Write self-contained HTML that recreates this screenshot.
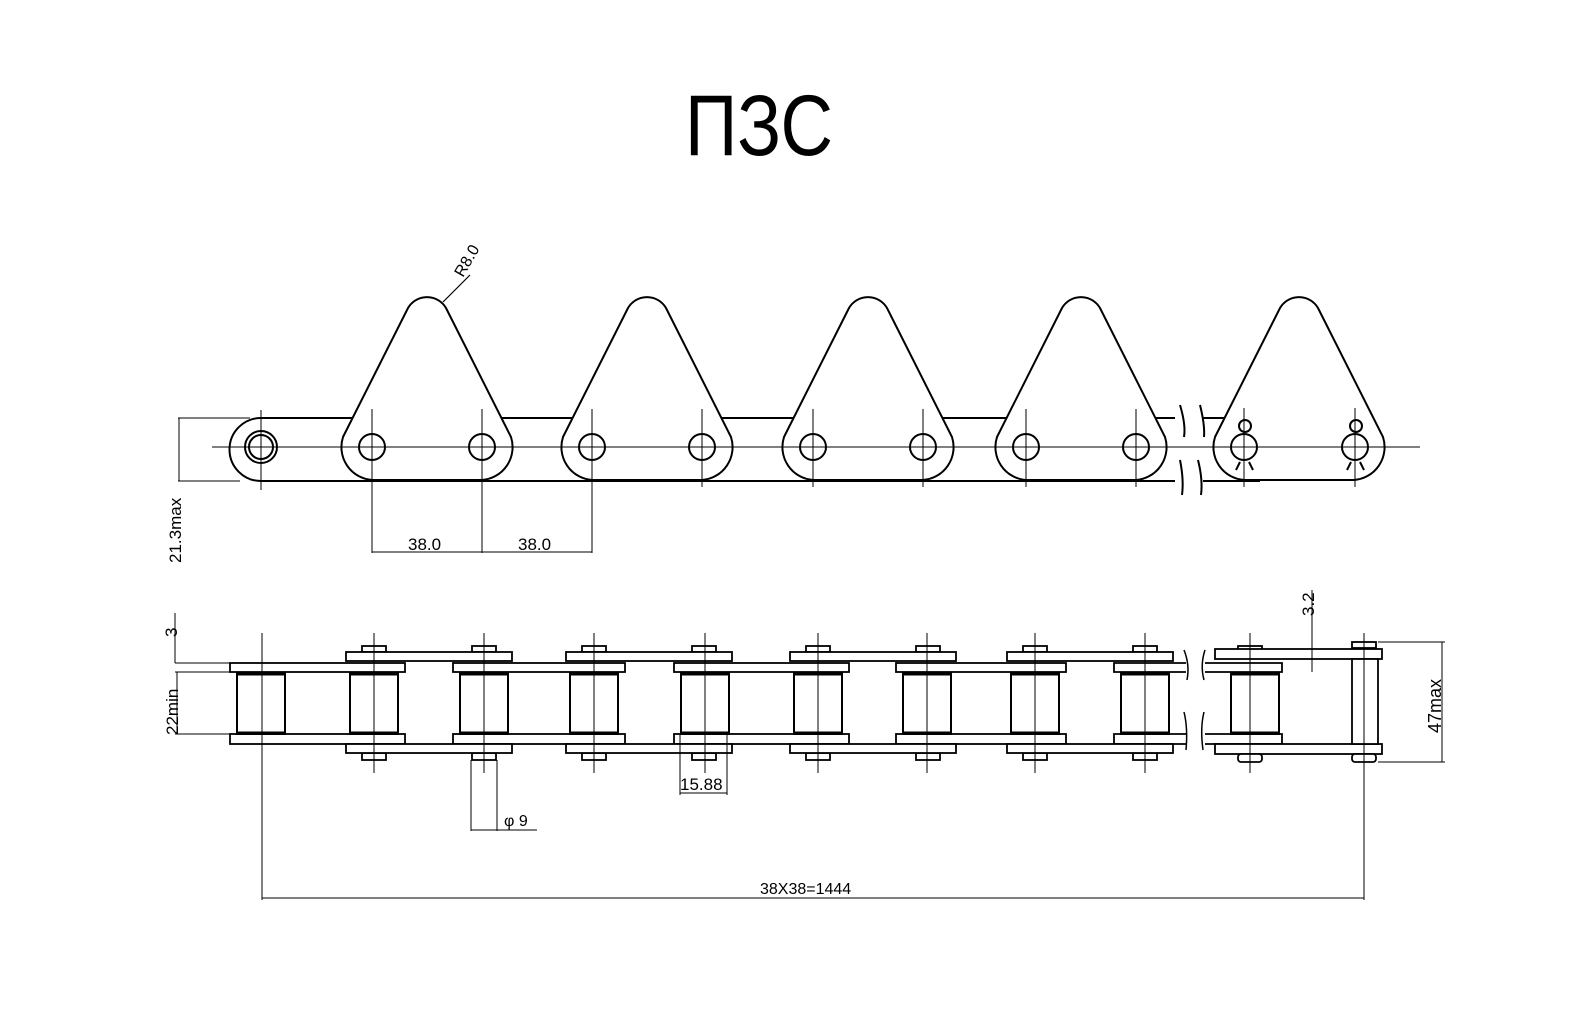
<!DOCTYPE html>
<html><head><meta charset="utf-8"><style>
html,body{margin:0;padding:0;background:#fff;}
svg{display:block;}
text{font-family:"Liberation Sans",sans-serif;fill:#000;}
</style></head><body>
<svg width="1570" height="1030" viewBox="0 0 1570 1030" xmlns="http://www.w3.org/2000/svg">
<defs>
<g id="tri">
<path d="M -29,-10 L 36,-139 A 22 22 0 0 1 74,-139 L 139,-10 A 33 33 0 0 1 110,33 L 0,33 A 33 33 0 0 1 -29,-10 Z" fill="#fff" stroke="#000" stroke-width="2"/>
</g>
<g id="holes">
<circle cx="0" cy="0" r="13" fill="none" stroke="#000" stroke-width="2"/>
<circle cx="110" cy="0" r="13" fill="none" stroke="#000" stroke-width="2"/>
<line x1="0" y1="-38" x2="0" y2="40" stroke="#000" stroke-width="1"/>
<line x1="110" y1="-38" x2="110" y2="40" stroke="#000" stroke-width="1"/>
</g>
<g id="outer" fill="#fff" stroke="#000" stroke-width="1.8">
<rect x="-12" y="646" width="24" height="6"/>
<rect x="98" y="646" width="24" height="6"/>
<rect x="-12" y="753" width="24" height="7"/>
<rect x="98" y="753" width="24" height="7"/>
<rect x="-28" y="652" width="166" height="9"/>
<rect x="-28" y="744" width="166" height="9"/>
</g>
<g id="roller">
<rect x="-24" y="673" width="48" height="61" fill="#fff" stroke="#000" stroke-width="2"/>
<line x1="-24" y1="674" x2="24" y2="674" stroke="#000" stroke-width="3"/>
<line x1="-24" y1="733" x2="24" y2="733" stroke="#000" stroke-width="3"/>
</g>
<g id="cl"><line x1="0" y1="633" x2="0" y2="773" stroke="#000" stroke-width="1"/></g>
</defs>

<text x="685" y="155" font-size="86" textLength="148" lengthAdjust="spacingAndGlyphs">ПЗС</text>

<!-- TOP VIEW -->
<g stroke="#000" fill="none" stroke-width="2">
<path d="M 360,418 L 261,418 A 31.5 31.5 0 0 0 261,481 L 360,481"/>
<line x1="340" y1="418" x2="1175" y2="418"/>
<line x1="340" y1="481" x2="1175" y2="481"/>
<line x1="1203" y1="418" x2="1240" y2="418"/>
<line x1="1203" y1="481" x2="1260" y2="481"/>
<circle cx="261" cy="447" r="16"/>
<circle cx="261" cy="447" r="12"/>
</g>
<line x1="212" y1="447" x2="1420" y2="447" stroke="#000" stroke-width="1"/>
<line x1="261" y1="410" x2="261" y2="490" stroke="#000" stroke-width="1"/>
<use href="#tri" x="372" y="447"/>
<use href="#tri" x="592" y="447"/>
<use href="#tri" x="813" y="447"/>
<use href="#tri" x="1026" y="447"/>
<use href="#tri" x="1244" y="447"/>
<line x1="1200" y1="447" x2="1420" y2="447" stroke="#000" stroke-width="1"/>
<line x1="340" y1="447" x2="1170" y2="447" stroke="#000" stroke-width="1"/>
<use href="#holes" x="372" y="447"/>
<use href="#holes" x="592" y="447"/>
<use href="#holes" x="813" y="447"/>
<use href="#holes" x="1026" y="447"/>
<g stroke="#000" fill="none" stroke-width="2">
<circle cx="1244" cy="447" r="13"/>
<circle cx="1355" cy="447" r="13"/>
<circle cx="1245" cy="426" r="6"/><circle cx="1356" cy="426" r="6"/>
<path d="M 1240,462 L 1236,470 M 1249,462 L 1253,470 M 1351,462 L 1347,470 M 1360,462 L 1364,470"/>
<path d="M 1180,405 Q 1186,425 1184,437 M 1200,405 Q 1205,425 1204,437 M 1180,460 Q 1184,480 1182,495 M 1198,460 Q 1203,480 1201,495"/>
</g>
<line x1="1244" y1="408" x2="1244" y2="487" stroke="#000" stroke-width="1"/>
<line x1="1355" y1="408" x2="1355" y2="487" stroke="#000" stroke-width="1"/>

<!-- R8.0 -->
<line x1="443" y1="302" x2="470" y2="275" stroke="#000" stroke-width="1.2"/>
<text x="0" y="0" font-size="16" transform="translate(463,278) rotate(-60)">R8.0</text>

<!-- 21.3max -->
<g stroke="#000" stroke-width="1">
<line x1="178" y1="418" x2="250" y2="418"/>
<line x1="178" y1="481" x2="240" y2="481"/>
<line x1="179" y1="418" x2="179" y2="481"/>
<line x1="372" y1="487" x2="372" y2="553"/>
<line x1="482" y1="487" x2="482" y2="553"/>
<line x1="592" y1="487" x2="592" y2="553"/>
<line x1="372" y1="552" x2="592" y2="552"/>
</g>
<text font-size="17" transform="translate(181,563) rotate(-90)">21.3max</text>
<text x="408" y="550" font-size="17">38.0</text>
<text x="518" y="550" font-size="17">38.0</text>

<!-- BOTTOM VIEW -->
<g fill="#fff" stroke="#000" stroke-width="1.8">
<rect x="230" y="663" width="175" height="9"/><rect x="230" y="734" width="175" height="10"/>
<rect x="453" y="663" width="172" height="9"/><rect x="453" y="734" width="172" height="10"/>
<rect x="674" y="663" width="175" height="9"/><rect x="674" y="734" width="175" height="10"/>
<rect x="896" y="663" width="170" height="9"/><rect x="896" y="734" width="170" height="10"/>
<path d="M 1186,663 L 1114,663 L 1114,672 L 1186,672 M 1186,734 L 1114,734 L 1114,744 L 1186,744"/>
<path d="M 1205,663 L 1282,663 L 1282,672 L 1205,672 M 1205,734 L 1282,734 L 1282,744 L 1205,744"/>
</g>
<use href="#outer" x="374"/>
<use href="#outer" x="594"/>
<use href="#outer" x="818"/>
<use href="#outer" x="1035"/>
<g fill="#fff" stroke="#000" stroke-width="1.8">
<rect x="1238" y="646" width="24" height="6"/>
<rect x="1352" y="642" width="24" height="6"/>
<rect x="1215" y="649" width="167" height="10"/>
<rect x="1215" y="744" width="167" height="10"/>
<rect x="1238" y="754" width="24" height="8" rx="3"/>
<rect x="1352" y="754" width="24" height="8" rx="3"/>
<rect x="1352" y="659" width="26" height="85"/>
</g>
<use href="#roller" x="261"/><use href="#roller" x="374"/><use href="#roller" x="484"/>
<use href="#roller" x="594"/><use href="#roller" x="705"/><use href="#roller" x="818"/>
<use href="#roller" x="927"/><use href="#roller" x="1035"/><use href="#roller" x="1145"/>
<use href="#roller" x="1255"/>
<use href="#cl" x="374"/><use href="#cl" x="484"/><use href="#cl" x="594"/><use href="#cl" x="705"/>
<use href="#cl" x="818"/><use href="#cl" x="927"/><use href="#cl" x="1035"/><use href="#cl" x="1145"/>
<use href="#cl" x="1250"/>
<g stroke="#000" stroke-width="1" fill="none">
<line x1="262" y1="633" x2="262" y2="900"/>
<line x1="1364" y1="633" x2="1364" y2="900"/>
<line x1="262" y1="898" x2="1364" y2="898"/>
<path stroke-width="1.5" d="M 1184,650 Q 1190,665 1187,680 M 1205,650 Q 1200,665 1204,680 M 1184,712 Q 1188,728 1186,750 M 1204,712 Q 1200,728 1203,750"/>
<line x1="175" y1="613" x2="175" y2="663"/>
<line x1="175" y1="663" x2="230" y2="663"/>
<line x1="175" y1="672" x2="230" y2="672"/>
<line x1="177" y1="672" x2="177" y2="734"/>
<line x1="175" y1="734" x2="230" y2="734"/>
<line x1="471" y1="760" x2="471" y2="831"/>
<line x1="497" y1="760" x2="497" y2="831"/>
<line x1="471" y1="830" x2="537" y2="830"/>
<line x1="680" y1="735" x2="680" y2="795"/>
<line x1="727" y1="735" x2="727" y2="795"/>
<line x1="680" y1="793" x2="727" y2="793"/>
<line x1="1312" y1="590" x2="1312" y2="672"/>
<line x1="1378" y1="642" x2="1445" y2="642"/>
<line x1="1378" y1="762" x2="1445" y2="762"/>
<line x1="1442" y1="642" x2="1442" y2="762"/>
</g>
<text font-size="17" transform="translate(177,637) rotate(-90)">3</text>
<text font-size="17" transform="translate(178,735) rotate(-90)">22min</text>
<text x="504" y="826" font-size="16">φ 9</text>
<text x="680" y="790" font-size="17">15.88</text>
<text x="760" y="894" font-size="16">38X38=1444</text>
<text font-size="17" transform="translate(1314,616) rotate(-90)">3.2</text>
<text font-size="18" transform="translate(1441,733) rotate(-90)">47max</text>
</svg>
</body></html>
